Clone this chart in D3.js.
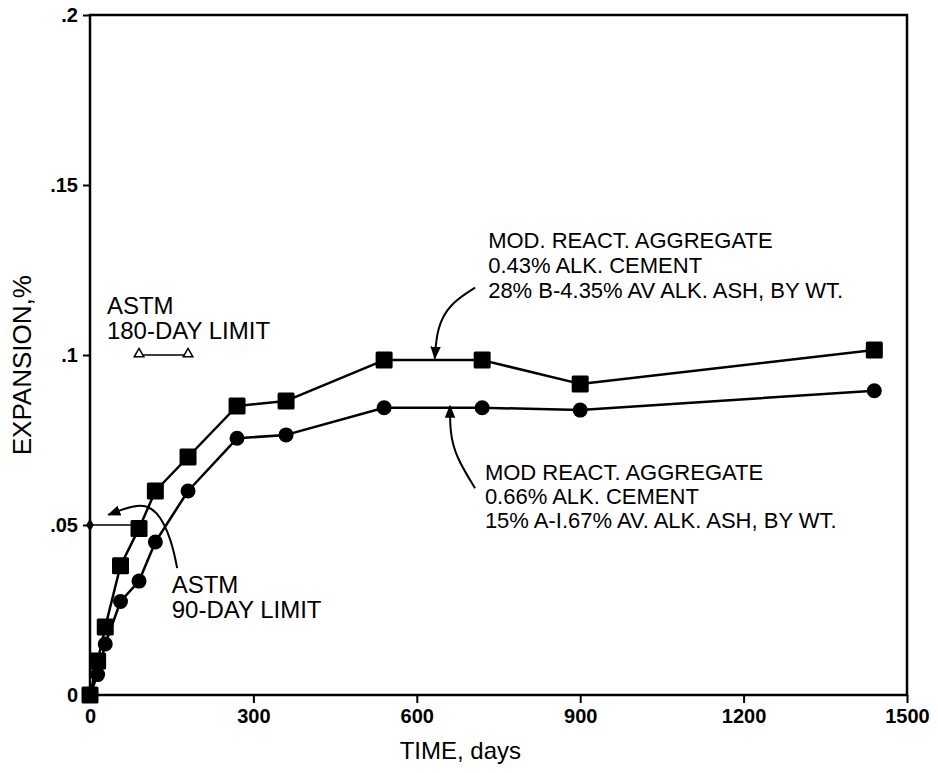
<!DOCTYPE html>
<html>
<head>
<meta charset="utf-8">
<script src="https://cdn.jsdelivr.net/npm/d3@7"></script>
<style>
  body { margin: 0; background: #fff; }
  text { font-family: "Liberation Sans", Arial, sans-serif; fill: #000; }
</style>
</head>
<body>
<svg id="chart"></svg>
<script>
// test ages, days
var days = [0, 14, 28, 56, 90, 120, 180, 270, 360, 540, 720, 900, 1440];
// 28% B ash, 0.43% alk cement (squares)
var expB = [0, 0.010, 0.020, 0.038, 0.049, 0.060, 0.070, 0.085, 0.0865, 0.0985, 0.0985, 0.0915, 0.1015];
// 15% A ash, 0.66% alk cement (circles)
var expA = [0, 0.006, 0.015, 0.0275, 0.0335, 0.045, 0.060, 0.0755, 0.0765, 0.0845, 0.0845, 0.0838, 0.0895];

var xTicks = [0, 300, 600, 900, 1200, 1500];
var yTicks = [0, 0.05, 0.1, 0.15, 0.2];
var yTickLabels = ["0", ".05", ".1", ".15", ".2"];

// ASTM limits
var limit180 = { days: [90, 180], value: 0.1 };
var limit90 = { days: [0, 90], value: 0.05 };

var labelB = ["MOD. REACT. AGGREGATE", "0.43% ALK. CEMENT", "28% B-4.35% AV ALK. ASH, BY WT."];
var labelA = ["MOD REACT.  AGGREGATE", "0.66% ALK. CEMENT", "15% A-I.67% AV. ALK. ASH, BY WT."];

var svgWidth = 938, svgHeight = 773;
var margin = { top: 15, right: 31, bottom: 78, left: 90 };
var width = svgWidth - margin.left - margin.right;
var height = svgHeight - margin.top - margin.bottom;

var svg = d3.select("#chart")
    .attr("width", svgWidth)
    .attr("height", svgHeight);

var defs = svg.append("defs");
defs.append("marker")
    .attr("id", "arrow")
    .attr("viewBox", "0 0 10 10")
    .attr("refX", 9).attr("refY", 5)
    .attr("markerWidth", 6.5).attr("markerHeight", 6.5)
    .attr("orient", "auto")
    .append("path")
    .attr("d", "M0,1 L10,5 L0,9 Z")
    .attr("fill", "#000");

var g = svg.append("g")
    .attr("transform", "translate(" + margin.left + "," + margin.top + ")");

var x = d3.scaleLinear().domain([0, 1500]).range([0, width]);
var y = d3.scaleLinear().domain([0, 0.2]).range([height, 0]);

// frame
g.append("rect")
    .attr("width", width).attr("height", height)
    .attr("fill", "none").attr("stroke", "#000").attr("stroke-width", 2.5);

var xAxis = g.append("g")
    .attr("transform", "translate(0," + height + ")")
    .call(d3.axisBottom(x).tickValues(xTicks).tickSize(8).tickPadding(6)
        .tickFormat(d3.format("d")));
xAxis.select(".domain").remove();
xAxis.selectAll("line").attr("stroke-width", 2);
xAxis.selectAll("text")
    .style("font-size", "20px").style("font-weight", "bold")
    .style("font-family", "Liberation Sans, Arial, sans-serif");

var yAxis = g.append("g")
    .call(d3.axisLeft(y).tickValues(yTicks).tickSize(7).tickPadding(5)
        .tickFormat(function(d, i) { return yTickLabels[i]; }));
yAxis.select(".domain").remove();
yAxis.selectAll("line").attr("stroke-width", 2);
yAxis.selectAll("text")
    .style("font-size", "20px").style("font-weight", "bold")
    .style("font-family", "Liberation Sans, Arial, sans-serif");

// axis titles
g.append("text")
    .attr("x", x(680)).attr("y", height + 64)
    .attr("text-anchor", "middle")
    .style("font-size", "24px")
    .text("TIME, days");

g.append("text")
    .attr("transform", "translate(" + (-59) + "," + (y(0.097)) + ") rotate(-90)")
    .attr("text-anchor", "middle")
    .style("font-size", "26px")
    .text("EXPANSION,%");

var line = d3.line()
    .x(function(d) { return x(d[0]); })
    .y(function(d) { return y(d[1]); });

var dataB = days.map(function(d, i) { return [d, expB[i]]; });
var dataA = days.map(function(d, i) { return [d, expA[i]]; });

[dataA, dataB].forEach(function(data) {
    g.append("path")
        .datum(data)
        .attr("fill", "none")
        .attr("stroke", "#000")
        .attr("stroke-width", 2.5)
        .attr("stroke-linejoin", "round")
        .attr("d", line);
});

g.selectAll(".sq")
    .data(dataB)
    .enter().append("rect")
    .attr("x", function(d) { return x(d[0]) - 8.5; })
    .attr("y", function(d) { return y(d[1]) - 8.5; })
    .attr("width", 17).attr("height", 17)
    .attr("rx", 1.5)
    .attr("fill", "#000");

g.selectAll(".ci")
    .data(dataA)
    .enter().append("circle")
    .attr("cx", function(d) { return x(d[0]); })
    .attr("cy", function(d) { return y(d[1]); })
    .attr("r", 7.5)
    .attr("fill", "#000");

// ASTM 180-day limit
g.append("line")
    .attr("x1", x(limit180.days[0])).attr("x2", x(limit180.days[1]))
    .attr("y1", y(limit180.value)).attr("y2", y(limit180.value))
    .attr("stroke", "#000").attr("stroke-width", 1.5);
g.selectAll(".tri")
    .data(limit180.days)
    .enter().append("path")
    .attr("transform", function(d) { return "translate(" + x(d) + "," + (y(limit180.value) - 1) + ")"; })
    .attr("d", d3.symbol().type(d3.symbolTriangle).size(40))
    .attr("fill", "#fff").attr("stroke", "#000").attr("stroke-width", 1.5);

// ASTM 90-day limit
g.append("line")
    .attr("x1", x(limit90.days[0])).attr("x2", x(limit90.days[1]))
    .attr("y1", y(limit90.value)).attr("y2", y(limit90.value))
    .attr("stroke", "#000").attr("stroke-width", 1.5);
g.append("path")
    .attr("transform", "translate(" + x(limit90.days[0]) + "," + y(limit90.value) + ")")
    .attr("d", d3.symbol().type(d3.symbolDiamond).size(50))
    .attr("fill", "#000");

// labels
function multiline(lines, dx, dy, step, size) {
    var t = g.append("text").style("font-size", size + "px");
    lines.forEach(function(s, i) {
        t.append("tspan").attr("x", dx).attr("y", dy + i * step).text(s);
    });
}
multiline(["ASTM", "180-DAY LIMIT"], x(31), y(0.1121), 25, 24);
multiline(["ASTM", "90-DAY LIMIT"], x(150), y(0.030), 25, 24);
multiline(labelB, x(731), y(0.1315), 25, 22);
multiline(labelA, x(725), y(0.0632), 24, 22);

// curved pointers
var curve = d3.line()
    .x(function(d) { return x(d[0]); })
    .y(function(d) { return y(d[1]); })
    .curve(d3.curveBasis);

var pointers = [
    [[160, 0.0373], [150, 0.0455], [124, 0.0545], [90, 0.0565], [34, 0.0530]],
    [[707, 0.1198], [660, 0.1150], [637, 0.1080], [633, 0.0990]],
    [[707, 0.0608], [672, 0.0700], [661, 0.0770], [661, 0.0850]]
];
pointers.forEach(function(p) {
    g.append("path")
        .datum(p)
        .attr("fill", "none")
        .attr("stroke", "#000")
        .attr("stroke-width", 2)
        .attr("marker-end", "url(#arrow)")
        .attr("d", curve);
});
</script>
</body>
</html>
